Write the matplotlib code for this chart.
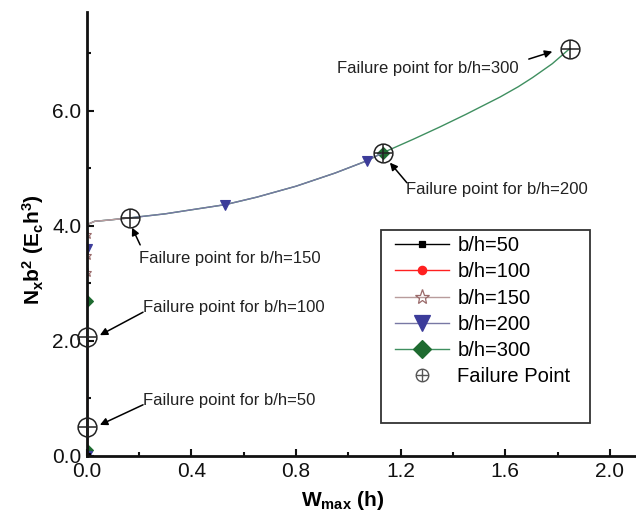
import matplotlib
matplotlib.use("Agg")
import matplotlib.pyplot as plt
from matplotlib.lines import Line2D
from matplotlib.patches import Rectangle
from matplotlib.ticker import MultipleLocator, FormatStrFormatter

plt.rcParams['font.family'] = ['Liberation Sans', 'DejaVu Sans']
plt.rcParams['mathtext.fontset'] = 'custom'
plt.rcParams['mathtext.rm'] = 'Liberation Sans'
plt.rcParams['mathtext.it'] = 'Liberation Sans'
plt.rcParams['mathtext.bf'] = 'Liberation Sans:bold'

# ---------------------------------------------------------------------------
# data: W_max (h) vs N_x b^2/(E_c h^3)
# ---------------------------------------------------------------------------
labels = ["b/h=50", "b/h=100", "b/h=150", "b/h=200", "b/h=300"]

w_50 = [0.0, 0.0, 0.0]
n_50 = [0.0, 0.05, 0.50]
mark_50 = [0]

w_100 = [0.0, 0.0, 0.0]
n_100 = [0.0, 0.05, 2.07]
mark_100 = [0]

w_150 = [0.0, 0.0, 0.0, 0.0, 0.0, 0.01, 0.03, 0.08, 0.165]
n_150 = [0.0, 3.19, 3.50, 3.86, 4.00, 4.04, 4.08, 4.10, 4.14]
mark_150 = [1, 2, 3]

w_200 = [0.0, 0.0, 0.0, 0.01, 0.03, 0.08, 0.165, 0.30, 0.40, 0.53, 0.65, 0.80,
         0.95, 1.07, 1.131]
n_200 = [0.0, 3.60, 4.00, 4.04, 4.08, 4.10, 4.14, 4.21, 4.28, 4.37, 4.50, 4.69,
         4.92, 5.13, 5.27]
mark_200 = [0, 1, 9, 13]

w_300 = [0.0, 0.0, 0.0, 0.0, 0.01, 0.03, 0.08, 0.165, 0.30, 0.40, 0.53, 0.65,
         0.80, 0.95, 1.07, 1.131, 1.25, 1.35, 1.45, 1.58, 1.65, 1.705, 1.78, 1.846]
n_300 = [0.0, 0.10, 2.69, 4.00, 4.04, 4.08, 4.10, 4.14, 4.21, 4.28, 4.37, 4.50,
         4.69, 4.92, 5.13, 5.27, 5.51, 5.72, 5.94, 6.24, 6.42, 6.58, 6.82, 7.08]
mark_300 = [1, 2, 15]

fail_w = [0.0, 0.0, 0.165, 1.131, 1.846]
fail_n = [0.50, 2.07, 4.14, 5.27, 7.08]

# (text, text pos, arrow tail, arrow head)
notes = [
    ("Failure point for b/h=50", (0.213, 0.97), (0.215, 0.89), (0.05, 0.54)),
    ("Failure point for b/h=100", (0.213, 2.59), (0.215, 2.50), (0.05, 2.10)),
    ("Failure point for b/h=150", (0.200, 3.44), (0.204, 3.67), (0.173, 3.97)),
    ("Failure point for b/h=200", (1.220, 4.63), (1.224, 4.75), (1.159, 5.10)),
    ("Failure point for b/h=300", (0.956, 6.73), (1.690, 6.90), (1.780, 7.03)),
]

# ---------------------------------------------------------------------------
# plot
# ---------------------------------------------------------------------------
fig = plt.figure(figsize=(6.36, 5.18), dpi=100)
ax = fig.add_axes([0.1365, 0.1197, 0.8635, 0.8573])

# (w, n, marker idx, line colour, marker, plot size, legend size, face, edge)
series = [
    (w_50, n_50, mark_50, "#000000", "s", 4, 5, "#000000", "#000000"),
    (w_100, n_100, mark_100, "#ff2020", "o", 4, 6, "#ff2020", "#ff2020"),
    (w_150, n_150, mark_150, "#b89c9c", "*", 6.5, 11, "none", "#9a6a6a"),
    (w_200, n_200, mark_200, "#7878a4", "v", 7.5, 11, "#3c3c9a", "#3c3c9a"),
    (w_300, n_300, mark_300, "#3f8f60", "D", 6.5, 9.5, "#1e6b30", "#1e6b30"),
]
handles = []
for k, ((w, n, mk_idx, lc, mk, ms, ms_leg, mfc, mec), lab) in enumerate(zip(series, labels)):
    # draw larger b/h first so the short curves sit on top
    ax.plot(w, n, color=lc, lw=1.0, marker=mk, markevery=mk_idx,
            markersize=ms, markerfacecolor=mfc, markeredgecolor=mec,
            markeredgewidth=0.8, zorder=3 + (5 - k) * 0.1)
    handles.append(Line2D([], [], color=lc, lw=1.0, marker=mk, markersize=ms_leg,
                          markerfacecolor=mfc, markeredgecolor=mec, markeredgewidth=0.9))

ax.plot(fail_w, fail_n, linestyle="none", marker="o", markersize=13.5,
        markerfacecolor="none", markeredgecolor="#222222", markeredgewidth=1.1,
        clip_on=False, zorder=5)
ax.plot(fail_w, fail_n, linestyle="none", marker="+", markersize=13.5,
        markeredgecolor="#222222", markeredgewidth=1.1, clip_on=False, zorder=5)

for txt, tpos, tail, head in notes:
    ax.text(tpos[0], tpos[1], txt, fontsize=12, ha="left", va="center", color="#222222")
    ax.annotate("", xy=head, xytext=tail,
                arrowprops=dict(arrowstyle="-|>", color="black", lw=1.1,
                                mutation_scale=11, shrinkA=0, shrinkB=0))

ax.set_xlim(0, 2.1)
ax.set_ylim(0, 7.72)
ax.xaxis.set_major_locator(MultipleLocator(0.4))
ax.xaxis.set_minor_locator(MultipleLocator(0.2))
ax.yaxis.set_major_locator(MultipleLocator(2.0))
ax.yaxis.set_minor_locator(MultipleLocator(1.0))
ax.xaxis.set_major_formatter(FormatStrFormatter("%.1f"))
ax.yaxis.set_major_formatter(FormatStrFormatter("%.1f"))
ax.tick_params(which="both", direction="in", width=1.5, labelsize=15, colors="#111111")
ax.tick_params(which="major", length=5, pad=4)
ax.tick_params(which="minor", length=3)

for s in ["top", "right"]:
    ax.spines[s].set_visible(False)
for s in ["left", "bottom"]:
    ax.spines[s].set_linewidth(2.0)
    ax.spines[s].set_color("#111111")
    ax.spines[s].set_zorder(4)

ax.set_xlabel(r"$\mathbf{W_{max}\ (h)}$", fontsize=15)
ax.set_ylabel(r"$\mathbf{N_x b^2\ (E_c h^3)}$", fontsize=15)
ax.xaxis.set_label_coords(0.466, -0.075)
ax.yaxis.set_label_coords(-0.075, 0.465)

# legend, with a taller box drawn by hand like the original
fail_handle = (Line2D([], [], linestyle="none", marker="o", markersize=9,
                      markerfacecolor="none", markeredgecolor="#555555", markeredgewidth=1.0),
               Line2D([], [], linestyle="none", marker="+", markersize=9,
                      markeredgecolor="#555555", markeredgewidth=1.0))
leg = fig.legend(handles + [fail_handle], labels + ["Failure Point"],
                 loc="upper left", bbox_to_anchor=(0.621, 0.544), frameon=False,
                 fontsize=14.5, handlelength=2.7, handletextpad=0.4,
                 labelspacing=0.36, borderpad=0, borderaxespad=0)
fig.patches.append(Rectangle((0.599, 0.1834), 0.329, 0.3726, transform=fig.transFigure,
                             facecolor="none", edgecolor="#333333", lw=1.3))

fig.savefig("out.png", dpi=100)
